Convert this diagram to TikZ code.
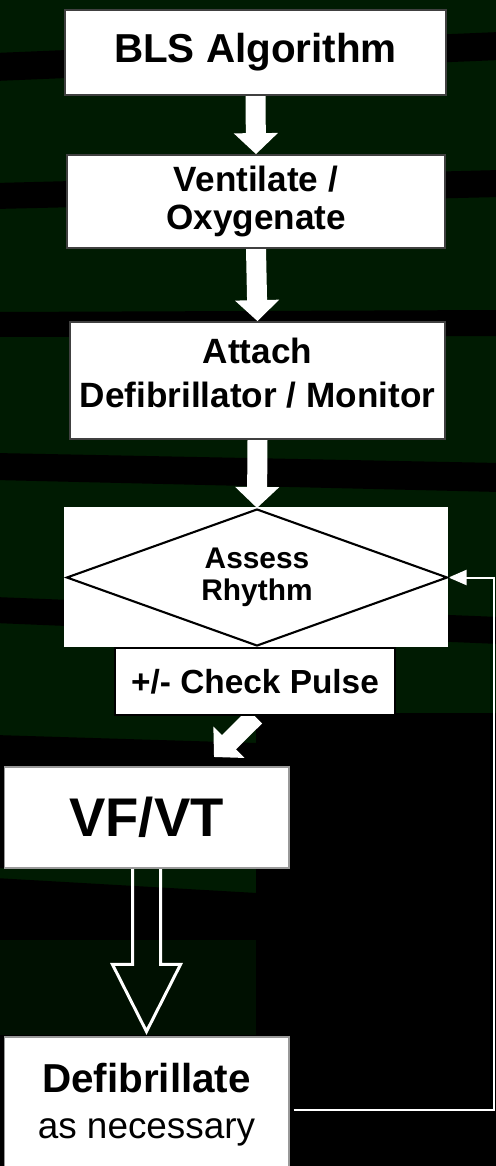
\documentclass[tikz,border=0pt]{standalone}
\usepackage{fontspec}
\setmainfont{Liberation Sans}
\usetikzlibrary{shapes.geometric,arrows.meta,calc}
\definecolor{bggreen}{RGB}{0,27,2}
\definecolor{bgdeep}{RGB}{0,16,1}
\pgfdeclarelayer{backdrop}
\pgfdeclarelayer{links}
\pgfsetlayers{backdrop,links,main}

\begin{document}
\begin{tikzpicture}
  [x=0.02cm,y=-0.02cm,
   box/.style={rectangle,draw=black!75,line width=1pt,fill=white,align=center,inner sep=0pt},
   blockarrow/.style={white,line width=0.4cm,-{Triangle[width=0.86cm,length=0.42cm]}},
   hollowarrow/.style={white,line width=0.06cm,line join=miter},
   loopline/.style={white,line width=0.04cm,-{Triangle[width=0.3cm,length=0.36cm]}}]

  \useasboundingbox (0,0) rectangle (495,1166);

  \begin{pgfonlayer}{backdrop}
    \fill[bggreen] (-5,-5) rectangle (500,1171);
    \fill[black] (-5,53) -- (500,32) -- (500,60) -- (-5,81) -- cycle;
    \fill[black] (-5,183) -- (500,170) -- (500,197) -- (-5,209) -- cycle;
    \fill[black] (-5,312) -- (500,310) -- (500,336) -- (-5,337) -- cycle;
    \fill[black] (-5,453) -- (500,463) -- (500,492) -- (-5,480) -- cycle;
    \fill[black] (-5,597) -- (500,617) -- (500,644) -- (-5,623) -- cycle;
    \fill[black] (-5,735) -- (257,743) -- (257,868) -- (-5,868) -- cycle;
    \fill[black] (-5,878) -- (257,893) -- (257,940) -- (-5,940) -- cycle;
    \fill[bgdeep] (-5,940) rectangle (257,1037);
    \fill[black] (-5,1035) rectangle (257,1171);
    \fill[black] (256,713) rectangle (500,1171);
  \end{pgfonlayer}

  \node[box,minimum width=7.62cm,minimum height=1.7cm,font=\fontsize{23}{27}\selectfont\bfseries] (bls) at (255.5,52.5) {BLS Algorithm};
  \node[box,minimum width=7.56cm,minimum height=1.86cm,font=\fontsize{20}{22}\selectfont\bfseries] (vent) at (256,201.5) {Ventilate /\\Oxygenate};
  \node[box,minimum width=7.5cm,minimum height=2.34cm,text depth=9pt,font=\fontsize{20}{25}\selectfont\bfseries] (attach) at (257.5,380.5) {Attach\\Defibrillator / Monitor};
  \node[rectangle,fill=white,minimum width=7.68cm,minimum height=2.8cm] (rhythmbox) at (256,577) {};
  \node[diamond,draw=black,line width=1.2pt,aspect=2.8,inner sep=0pt,minimum width=7.62cm,minimum height=2.74cm,align=center,font=\fontsize{17}{18.5}\selectfont\bfseries] (rhythm) at (257,577.5) {Assess\\Rhythm};
  \node[box,draw=black,line width=1.6pt,minimum width=5.6cm,minimum height=1.34cm,font=\fontsize{19}{22}\selectfont\bfseries] (pulse) at (255,681.5) {+/- Check Pulse};
  \node[box,draw=black!40,line width=0.6pt,minimum width=5.7cm,minimum height=2.02cm,font=\fontsize{31}{36}\selectfont\bfseries] (vfvt) at (146.5,817.5) {VF/VT};
  \node[box,draw=black!40,line width=0.6pt,minimum width=5.7cm,minimum height=2.7cm,font=\fontsize{21}{26}\selectfont] (defib) at (146.5,1104.5) {{\fontsize{23}{26}\selectfont\bfseries Defibrillate}\\as necessary};
  \coordinate (vftip) at (214,757);

  \begin{pgfonlayer}{links}
  \foreach \from/\to in {bls/vent,vent/attach,attach/rhythm}
    \draw[blockarrow] (\from.south) -- (\to.north);
  \draw[blockarrow] (pulse.south) -- (vftip);
  \draw[hollowarrow] ($(vfvt.south)+(-14,0)$) -- ($(defib.north)+(-14,-72)$) -- ($(defib.north)+(-34,-72)$)
    -- ($(defib.north)+(0,-5)$) -- ($(defib.north)+(34,-72)$) -- ($(defib.north)+(14,-72)$) -- ($(vfvt.south)+(14,0)$);
  \draw[loopline] ([xshift=0.08cm,yshift=-0.11cm]defib.east) -- ++(200,0) |- (rhythm.east);
  \end{pgfonlayer}
\end{tikzpicture}
\end{document}
